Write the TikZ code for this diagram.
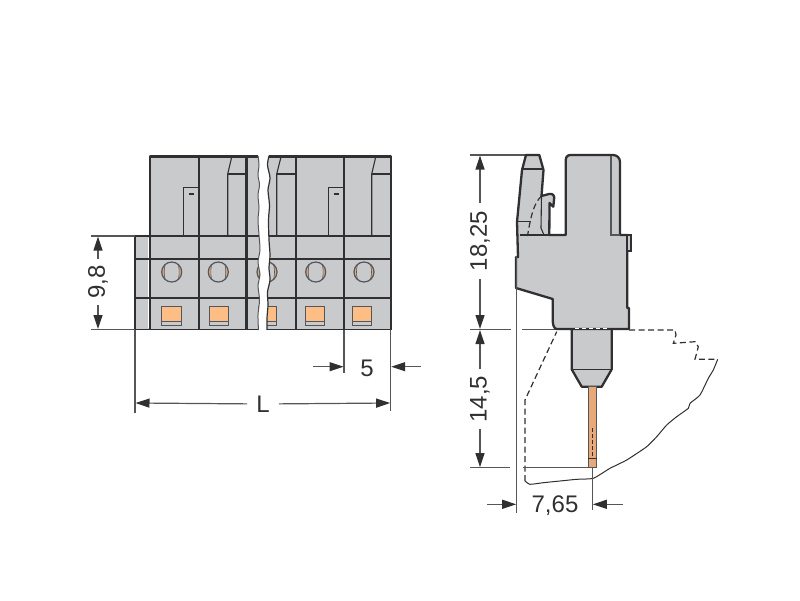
\documentclass[tikz,border=0pt]{standalone}
\usepackage{fontspec}
\setmainfont{Liberation Sans}
\usetikzlibrary{arrows.meta}
\definecolor{bodygray}{HTML}{C9CACC}
\definecolor{inkdark}{HTML}{303033}
\definecolor{extgray}{HTML}{55565A}
\definecolor{pinorange}{HTML}{FDBE85}
\definecolor{pincopper}{HTML}{E9A878}
\definecolor{holetan}{HTML}{DDAE82}
\tikzset{
	outline/.style={draw=inkdark, line width=2.3pt, line join=round},
	divider/.style={draw=inkdark, line width=1.5pt},
	thinline/.style={draw=inkdark, line width=1.1pt},
	extline/.style={draw=extgray, line width=1.2pt},
	dimarrow/.style={draw=extgray, line width=1.2pt, -{Triangle[length=14pt,width=9pt,inkdark]}},
	dimlabel/.style={text=inkdark, font=\fontsize{24}{24}\selectfont, inner sep=0pt},
	hole/.style={circle, draw=extgray, line width=1.2pt, fill=holetan, minimum size=20pt, inner sep=0pt,
		path picture={\filldraw[fill=bodygray, draw=extgray, line width=.6pt] (path picture bounding box.center) ellipse (7.5pt and 15pt);}},
	window/.style={draw=extgray, line width=1pt},
	windowfill/.style={fill=pinorange},
	hiddenline/.style={draw=inkdark, line width=1.2pt, dash pattern=on 6pt off 3.5pt},
}
\begin{document}
\begin{tikzpicture}[x=1pt,y=-1pt]
	\useasboundingbox (0,0) rectangle (800,600);

	\coordinate (flangetop) at (135,236);
	\coordinate (flangebot) at (135,329.5);
	\coordinate (rightbot) at (390.7,329.5);
	\coordinate (divbot) at (344,329.5);

	\fill[bodygray] (150,156.5) rectangle (390.7,329.5);
	\fill[bodygray] (135,236) rectangle (150,329.5);
	\draw[white, line width=1pt] (148,238) -- (148,328);

	\draw[divider] (135,236) -- (390.7,236);
	\draw[divider] (135,259) -- (390.7,259);
	\draw[divider] (135,298) -- (390.7,298);
	\draw[divider] (135,236) -- (135,329.5);

	\draw[thinline] (183.3,236) -- (183.3,187.7) -- (199,187.7);
	\draw[thinline] (188.5,194) -- (193.5,194);
	\draw[thinline] (328.3,236) -- (328.3,187.7) -- (344,187.7);
	\draw[thinline] (333.5,194) -- (338.5,194);
	\draw[thinline] (231.7,157) -- (227.7,174) -- (227.7,236);
	\draw[thinline] (227.7,174) -- (246.5,174);
	\draw[thinline] (281,157) -- (276.7,174) -- (276.7,236);
	\draw[thinline] (276.7,174) -- (295.7,174);
	\draw[thinline] (375.7,157) -- (371.7,174) -- (371.7,236);
	\draw[thinline] (371.7,174) -- (390.7,174);

	\node[hole] (hole1) at (171.7,272) {};
	\node[hole] (hole2) at (218.3,272) {};
	\node[hole] (hole3) at (267,272) {};
	\node[hole] (hole4) at (315.7,272) {};
	\node[hole] (hole5) at (364,272) {};

	\fill[windowfill] (161.7,306.7) rectangle (181,321.5);
	\draw[window] (161.7,306.7) rectangle (181,325.7);
	\draw[window] (161.7,321.5) -- (181,321.5);
	\fill[windowfill] (209.3,306.7) rectangle (228,321.5);
	\draw[window] (209.3,306.7) rectangle (228,325.7);
	\draw[window] (209.3,321.5) -- (228,321.5);
	\fill[windowfill] (258,306.7) rectangle (276,321.5);
	\draw[window] (258,306.7) rectangle (276,325.7);
	\draw[window] (258,321.5) -- (276,321.5);
	\fill[windowfill] (305.7,306.7) rectangle (324.3,321.5);
	\draw[window] (305.7,306.7) rectangle (324.3,325.7);
	\draw[window] (305.7,321.5) -- (324.3,321.5);
	\fill[windowfill] (352.7,306.7) rectangle (371.7,321.5);
	\draw[window] (352.7,306.7) rectangle (371.7,325.7);
	\draw[window] (352.7,321.5) -- (371.7,321.5);

	\draw[divider] (135,329.5) -- (390.7,329.5);
	\draw[outline] (150,329.5) -- (150,156.5) -- (390.7,156.5) -- (390.7,329.5);
	\draw[outline] (199,156.5) -- (199,329.5);
	\draw[outline] (246.5,156.5) -- (246.5,329.5);
	\draw[outline] (295.7,156.5) -- (295.7,329.5);
	\draw[outline] (344,156.5) -- (344,329.5);

	\fill[white] plot[smooth] coordinates {(258,154) (259,165) (258,175) (259.5,185) (258,195) (259,208) (258,220) (259,235) (260,250) (258,262) (260,275) (258,285) (259.5,300) (258,315) (258.5,332)}
		-- plot[smooth] coordinates {(267,332) (267,318) (268,305) (267.5,292) (270,280) (269,268) (270,255) (269,240) (268.5,220) (269.5,205) (268,190) (270,178) (267.5,165) (269,154)} -- cycle;
	\draw[extgray, line width=1pt] plot[smooth] coordinates {(258,156) (259,165) (258,175) (259.5,185) (258,195) (259,208) (258,220) (259,235) (260,250) (258,262) (260,275) (258,285) (259.5,300) (258,315) (258.5,330)};
	\draw[inkdark, line width=1.2pt] plot[smooth] coordinates {(267,330) (267,318) (268,305) (267.5,292) (270,280) (269,268) (270,255) (269,240) (268.5,220) (269.5,205) (268,190) (270,178) (267.5,165) (269,156)};

	\coordinate (nineext) at (90.7,236);
	\coordinate (nineextb) at (90.7,329.5);
	\draw[extline] (nineext) -- (flangetop);
	\draw[extline] (nineextb) -- (flangebot);
	\node[dimlabel, rotate=90, inner xsep=6pt] (lblnine) at (98,282) {9,8};
	\coordinate (ninetop) at (98,236.5);
	\coordinate (ninebot) at (98,329);
	\draw[dimarrow] (lblnine) -- (ninetop);
	\draw[dimarrow] (lblnine) -- (ninebot);

	\coordinate (lextl) at (135,413);
	\coordinate (lextr) at (390.7,411);
	\coordinate (lendl) at (135.5,403);
	\coordinate (lendr) at (390.2,403);
	\draw[extline] (flangebot) -- (lextl);
	\draw[extline] (rightbot) -- (lextr);
	\node[dimlabel, inner xsep=9pt] (lbll) at (263,404) {L};
	\draw[dimarrow] (lbll) -- (lendl);
	\draw[dimarrow] (lbll) -- (lendr);

	\coordinate (fiveext) at (344,373);
	\coordinate (fivefroml) at (313,366.7);
	\coordinate (fivetol) at (343.5,366.7);
	\coordinate (fivefromr) at (421,366.7);
	\coordinate (fivetor) at (391.2,366.7);
	\draw[extline] (divbot) -- (fiveext);
	\draw[dimarrow] (fivefroml) -- (fivetol);
	\draw[dimarrow] (fivefromr) -- (fivetor);
	\node[dimlabel] (lblfive) at (367,368) {5};

	\draw[hiddenline] (629,330) -- (675,330) -- (676,335) -- (673.3,343.3) -- (695,341.7) -- (698.3,346.7) -- (695,359.3) -- (717.7,359.3);
	\draw[inkdark, line width=1pt] plot[smooth, tension=.3] coordinates {(717.7,359.3) (713.3,370) (708.3,378.3) (700,395) (690,403.3) (688.3,408.3) (676.7,416.7) (666.7,425) (656.7,436.7) (646.7,446.7) (626.7,460) (610,468.3) (593.3,478.3) (576.7,479.3) (560,481) (543.3,482.7) (530,484.3) (525,481)};
	\draw[hiddenline] (525,481) -- (525,400) -- (556.7,331.7);

	\coordinate (toplextl) at (470,155);
	\coordinate (toplextr) at (526,155);
	\coordinate (midextl) at (470,329.5);
	\coordinate (midextm) at (511,329.5);
	\coordinate (midextn) at (522,329.5);
	\coordinate (midextr) at (556,329.5);
	\coordinate (botextl) at (470,467.7);
	\coordinate (botextm) at (510,467.7);
	\coordinate (botextn) at (522.7,467.7);
	\coordinate (botextr) at (588.3,467.7);
	\draw[extline] (toplextl) -- (toplextr);
	\draw[extline] (midextl) -- (midextm);
	\draw[extline] (midextn) -- (midextr);
	\draw[extline] (botextl) -- (botextm);
	\draw[extline] (botextn) -- (botextr);

	\fill[bodygray] (571.7,329) -- (611.7,329) -- (611.7,369.3) -- (601.7,386.7) -- (581.7,386.7) -- (571.7,369.3) -- cycle;
	\draw[outline] (571.7,329) -- (571.7,369.3) -- (581.7,386.7) -- (601.7,386.7) -- (611.7,369.3) -- (611.7,329);
	\draw[thinline] (571.7,369.3) -- (611.7,369.3);
	\filldraw[fill=pincopper, draw=extgray, line width=1pt] (588.3,386.7) rectangle (596.7,467.7);
	\draw[inkdark, line width=.8pt] (588.3,458) -- (596.7,458);
	\draw[inkdark, line width=.6pt, dash pattern=on 4pt off 2pt] (592.3,428) -- (592.3,458);

	\filldraw[fill=bodygray, outline] (526,155) -- (539.3,155) -- (543.5,170) -- (541.5,196) -- (549,194) .. controls (553,193) and (555,196) .. (554,200) -- (553.3,206.7) -- (549.5,203) -- (549.3,235) -- (565.7,235) -- (565.7,161) .. controls (565.7,157) and (567,155) .. (571,155) -- (613,155) .. controls (617,155) and (620,158) .. (620,162) -- (620,235) -- (627.3,235) -- (627.3,308) -- (629,308) -- (629,329) -- (557,329) .. controls (554,329) and (552.7,325) .. (552.7,320) -- (552.7,299) -- (516,288) -- (516,257) -- (518,257) -- (517,222) -- (522,170) -- cycle;
	\filldraw[fill=bodygray, draw=inkdark, line width=1.5pt] (627.3,235) rectangle (631,251);
	\draw[thinline] (522,169) -- (543.5,169);
	\draw[thinline] (517,221.5) -- (531,221.5);
	\draw[thinline] (541.5,196) -- (541,228) -- (544,235);
	\draw[outline] (520,235) -- (549.3,235);
	\draw[extline] (611,156) -- (611,235) -- (620,235);
	\draw[hiddenline] (541.5,196) .. controls (534,203) and (531,215) .. (527.5,236);
	\draw[white, line width=.8pt, dash pattern=on 4pt off 3pt] (575,328) -- (608,328);

	\coordinate (dimleftb) at (516.7,256);
	\coordinate (dimleftc) at (516.7,513);
	\coordinate (pinext) at (592.3,467.7);
	\coordinate (pinextb) at (592.3,510);
	\draw[extline] (dimleftb) -- (dimleftc);
	\draw[extline] (pinext) -- (pinextb);

	\node[dimlabel, rotate=90, inner xsep=8pt] (lbltop) at (480,241) {18,25};
	\coordinate (topup) at (480,155.5);
	\coordinate (topdown) at (480,329);
	\draw[dimarrow] (lbltop) -- (topup);
	\draw[dimarrow] (lbltop) -- (topdown);
	\node[dimlabel, rotate=90, inner xsep=6pt] (lblbot) at (480,399) {14,5};
	\coordinate (botup) at (480,330);
	\coordinate (botdown) at (480,467.2);
	\draw[dimarrow] (lblbot) -- (botup);
	\draw[dimarrow] (lblbot) -- (botdown);

	\coordinate (sevfroml) at (487,504.3);
	\coordinate (sevtol) at (516.2,504.3);
	\coordinate (sevfromr) at (623,504.3);
	\coordinate (sevtor) at (592.8,504.3);
	\draw[dimarrow] (sevfroml) -- (sevtol);
	\draw[dimarrow] (sevfromr) -- (sevtor);
	\node[dimlabel] (lblsev) at (555,506) {7,65};
\end{tikzpicture}
\end{document}
